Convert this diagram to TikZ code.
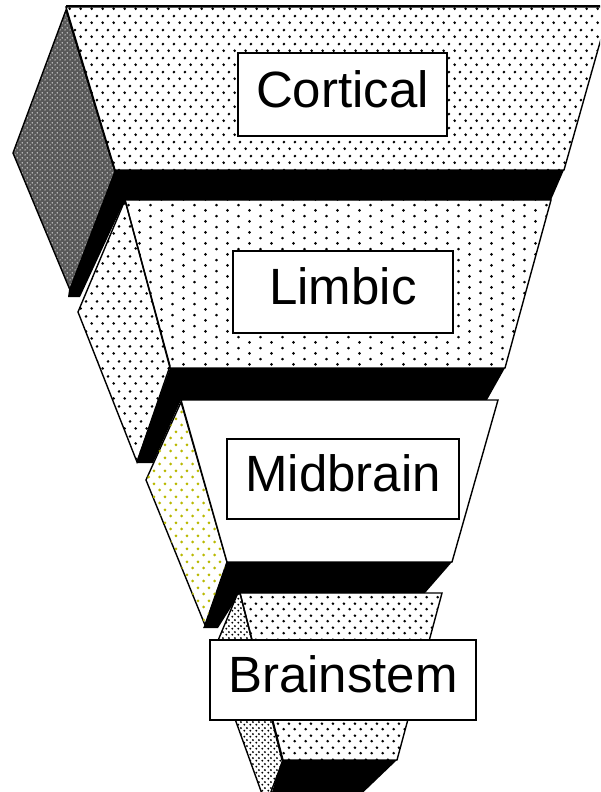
\documentclass[tikz,border=0pt]{standalone}
\usepackage{fontspec}
\setmainfont{Liberation Sans}
\usetikzlibrary{patterns}

\pgfdeclarepatternformonly{ctxfront}{\pgfqpoint{0pt}{0pt}}{\pgfqpoint{11.3pt}{13.6pt}}{\pgfqpoint{11.3pt}{13.6pt}}{%
 \pgfpathcircle{\pgfqpoint{2.8pt}{3.4pt}}{1.5pt}%
 \pgfpathcircle{\pgfqpoint{8.45pt}{10.2pt}}{1.5pt}%
 \pgfusepath{fill}}
\pgfdeclarepatternformonly{limfront}{\pgfqpoint{0pt}{0pt}}{\pgfqpoint{22.4pt}{11.2pt}}{\pgfqpoint{22.4pt}{11.2pt}}{%
 \pgfpathcircle{\pgfqpoint{5.6pt}{2.8pt}}{1.55pt}%
 \pgfpathcircle{\pgfqpoint{16.8pt}{8.4pt}}{1.55pt}%
 \pgfusepath{fill}}
\pgfdeclarepatternformonly{limside}{\pgfqpoint{0pt}{0pt}}{\pgfqpoint{11.3pt}{15pt}}{\pgfqpoint{11.3pt}{15pt}}{%
 \pgfpathcircle{\pgfqpoint{2.8pt}{3.75pt}}{1.5pt}%
 \pgfpathcircle{\pgfqpoint{8.45pt}{11.25pt}}{1.5pt}%
 \pgfusepath{fill}}
\pgfdeclarepatternformonly{midside}{\pgfqpoint{0pt}{0pt}}{\pgfqpoint{11.3pt}{13pt}}{\pgfqpoint{11.3pt}{13pt}}{%
 \pgfpathcircle{\pgfqpoint{2.8pt}{3.25pt}}{1.6pt}%
 \pgfpathcircle{\pgfqpoint{8.45pt}{9.75pt}}{1.6pt}%
 \pgfusepath{fill}}
\pgfdeclarepatternformonly{bsfront}{\pgfqpoint{0pt}{0pt}}{\pgfqpoint{11.3pt}{12pt}}{\pgfqpoint{11.3pt}{12pt}}{%
 \pgfpathcircle{\pgfqpoint{2.8pt}{3pt}}{1.5pt}%
 \pgfpathcircle{\pgfqpoint{8.45pt}{9pt}}{1.5pt}%
 \pgfusepath{fill}}
\pgfdeclarepatternformonly{bsside}{\pgfqpoint{0pt}{0pt}}{\pgfqpoint{5.6pt}{5.6pt}}{\pgfqpoint{5.6pt}{5.6pt}}{%
 \pgfpathcircle{\pgfqpoint{1.4pt}{1.4pt}}{1.1pt}%
 \pgfpathcircle{\pgfqpoint{4.2pt}{4.2pt}}{1.1pt}%
 \pgfusepath{fill}}
\pgfdeclarepatternformonly{ctxside}{\pgfqpoint{0pt}{0pt}}{\pgfqpoint{4.6pt}{4.6pt}}{\pgfqpoint{4.6pt}{4.6pt}}{%
 \pgfpathcircle{\pgfqpoint{1.15pt}{1.15pt}}{0.8pt}%
 \pgfpathcircle{\pgfqpoint{3.45pt}{3.45pt}}{0.8pt}%
 \pgfusepath{fill}}

\definecolor{dotc}{RGB}{0,0,0}
\definecolor{ydot}{RGB}{185,185,0}

\begin{document}
\begin{tikzpicture}[x=1pt,y=-1pt,
  face/.style={draw=black, line width=1.4pt, line join=miter},
  band/.style={fill=black},
  lbl/.style={draw=black, line width=1.8pt, fill=white, inner sep=0pt,
    font=\fontsize{51}{60}\selectfont, text height=37pt, text depth=12pt},
]
\useasboundingbox (0,0) rectangle (600,792);
\clip (0,0) rectangle (600,792);

% Cortical side (dark diamond)
\path[face, preaction={fill=black!65}, pattern=ctxside, pattern color=white!85!black]
  (66,10) -- (13,153) -- (70,290) -- (115,172) -- cycle;
% Cortical front
\path[face, pattern=ctxfront, pattern color=dotc]
  (66,7) -- (610,7) -- (564,170) -- (115,170) -- cycle;
\draw[line width=1.8pt] (66,6) -- (610,6);
% Band 1
\fill[band] (115,170) -- (564,170) -- (551,200) -- (125,200) -- (80,297)
  -- (68,297) -- (69,290) -- cycle;

% Limbic side
\path[face, fill=white] (125,200) -- (78,312) -- (137,462) -- (170,366) -- cycle;
\path[pattern=limside, pattern color=dotc] (125,200) -- (78,312) -- (137,462) -- (170,366) -- cycle;
% Limbic front
\path[face, pattern=limfront, pattern color=dotc]
  (125,200) -- (551,200) -- (505,368) -- (170,368) -- cycle;
% Band 2
\fill[band] (170,368) -- (505,368) -- (487,400) -- (181,400) -- (153,463)
  -- (137,463) -- (137,460) -- cycle;

% Midbrain side
\path[face, fill=white] (181,402) -- (146,480) -- (205,625) -- (227,562) -- cycle;
\path[pattern=midside, pattern color=ydot] (181,402) -- (146,480) -- (205,625) -- (227,562) -- cycle;
% Midbrain front
\path[face, fill=white] (181,400) -- (498,400) -- (452,562) -- (227,562) -- cycle;
% Band 3
\fill[band] (227,562) -- (452,562) -- (425,593) -- (240,593) -- (218,628)
  -- (203,628) -- (205,624) -- cycle;

% Brainstem side
\path[face, fill=white] (237,595) -- (212,655) -- (266,805) -- (283,760) -- (240,593) -- cycle;
\path[pattern=bsside, pattern color=dotc] (237,595) -- (212,655) -- (266,805) -- (283,760) -- (240,593) -- cycle;
% Brainstem front
\path[face, pattern=bsfront, pattern color=dotc]
  (240,593) -- (442,593) -- (397,760) -- (282,760) -- cycle;
% Band 4
\fill[band] (282,760) -- (397,760) -- (350,805) -- (268,805) -- cycle;

% Labels
\node[lbl, minimum width=209pt, minimum height=83pt] (cortical) at (342.5,94.5) {Cortical};
\node[lbl, minimum width=220pt, minimum height=82pt] (limbic) at (343,292) {Limbic};
\node[lbl, minimum width=232pt, minimum height=80pt] (midbrain) at (343,479) {Midbrain};
\node[lbl, minimum width=266pt, minimum height=80pt] (brainstem) at (343,680) {Brainstem};
\end{tikzpicture}
\end{document}
